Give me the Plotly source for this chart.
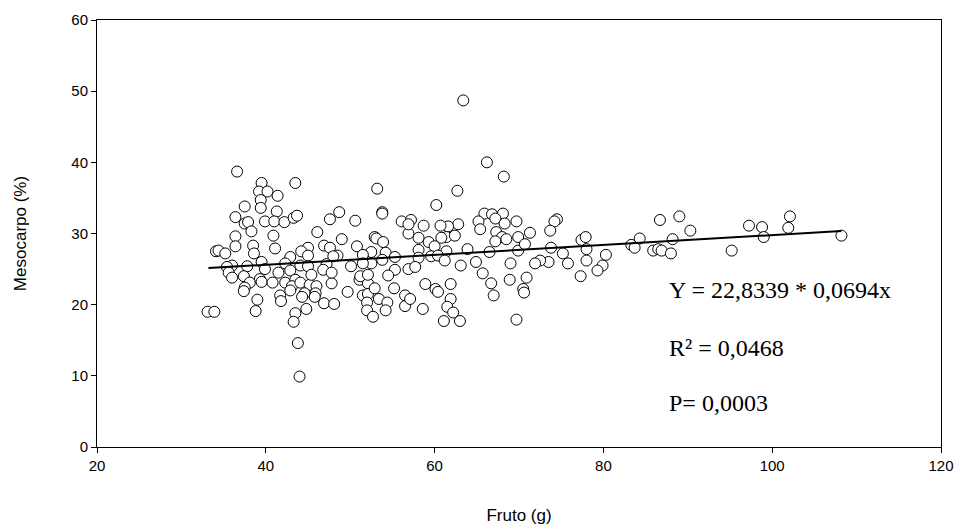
import plotly.graph_objects as go

# Data: fruit weight (g) vs mesocarp (%)
fruto = [
    36.6, 39.5, 39.2, 40.2, 41.4, 39.4, 39.4, 37.5, 43.5, 41.3, 36.4, 37.5, 37.9, 39.9, 41.0, 42.2,
    43.3, 43.7, 38.3, 40.9, 36.4, 36.4, 38.5, 41.1, 38.6, 34.1, 34.4, 35.2, 39.5, 42.9, 42.3, 36.0,
    35.4, 37.8, 39.9, 35.6, 36.0, 37.4, 39.3, 41.5, 42.9, 38.1, 39.5, 40.8, 42.3, 43.5, 43.1, 37.5,
    37.4, 39.0, 38.8, 33.1, 33.9, 41.7, 41.8, 42.9, 43.5, 43.3, 43.8, 44.0,
    44.1, 45.2, 46.0, 47.8, 44.6, 44.3, 45.9, 45.8, 46.9, 48.1, 44.8, 49.7, 51.1, 52.1, 51.5, 52.1,
    52.9, 52.0, 53.4, 54.4, 54.2, 52.0, 52.7, 55.2, 56.5, 56.5,
    53.2, 53.8, 53.8, 48.7, 47.6, 50.6, 56.1, 46.1, 52.9, 53.1, 56.9, 49.0, 46.9, 50.8, 53.9, 47.6,
    45.0, 44.2, 52.5, 54.2, 51.5, 48.5, 48.0, 45.0, 55.3, 53.8, 52.5, 51.5, 50.1, 47.2, 44.1, 45.0,
    55.3, 56.9, 46.8, 47.8, 45.4, 51.2, 54.5, 52.1,
    66.2, 68.2, 62.7, 60.2, 65.9, 66.8, 68.1, 67.2, 65.2, 68.3, 65.4, 67.3, 69.7, 68.0, 67.2, 68.5,
    69.9, 62.8, 61.6, 60.7, 58.7, 57.2, 56.9, 58.1, 61.4, 62.4, 60.8, 59.3, 58.1, 60.0, 61.4, 63.9,
    66.5, 69.9, 59.6, 60.4, 58.1, 61.2, 63.1, 64.9, 69.0, 57.7, 65.7, 68.9, 66.7, 58.9, 61.9, 60.1,
    60.4, 61.9, 61.5, 62.2, 61.1, 63.0, 58.6, 57.1, 67.0, 69.7, 63.4,
    74.5, 74.2, 73.7, 71.3, 70.7, 73.8, 77.4, 77.9, 78.0, 75.2, 80.3, 79.9, 79.3, 78.0, 75.8, 73.5,
    72.5, 71.9, 77.3, 70.9, 70.5, 70.6,
    86.7, 89.0, 90.3, 84.3, 83.3, 83.7, 88.2, 85.9, 86.5, 86.9, 88.0, 95.2,
    97.25, 98.8, 99.0, 102.1, 101.9, 108.2,
]
mesocarpo = [
    38.7, 37.1, 35.9, 35.9, 35.3, 34.7, 33.6, 33.8, 37.1, 33.1, 32.3, 31.4, 31.6, 31.7, 31.7, 31.6,
    32.2, 32.5, 30.3, 29.7, 29.6, 28.2, 28.3, 27.9, 27.2, 27.5, 27.6, 27.2, 26.0, 26.7, 25.8, 25.5,
    25.3, 25.4, 25.0, 24.5, 23.8, 24.0, 23.6, 24.5, 24.8, 23.1, 23.2, 23.1, 23.1, 23.5, 22.6, 22.4,
    21.9, 20.7, 19.1, 19.0, 19.0, 21.3, 20.5, 22.0, 18.8, 17.6, 14.6, 9.9,
    23.1, 22.8, 22.6, 23.0, 21.6, 21.1, 21.6, 21.1, 20.2, 20.1, 19.4, 21.8, 23.5, 23.0, 21.3, 21.5,
    22.3, 20.3, 20.8, 20.3, 19.2, 19.2, 18.3, 22.3, 21.3, 19.8,
    36.3, 33.0, 32.8, 33.0, 32.0, 31.8, 31.7, 30.2, 29.5, 29.3, 30.0, 29.2, 28.3, 28.2, 28.8, 28.0,
    28.0, 27.5, 27.4, 27.3, 27.0, 26.9, 26.8, 26.9, 26.7, 26.3, 25.8, 25.8, 25.4, 25.7, 25.5, 25.4,
    24.9, 25.0, 24.9, 24.5, 24.2, 24.0, 24.1, 24.2,
    40.0, 38.0, 36.0, 34.0, 32.8, 32.7, 32.8, 32.1, 31.7, 31.4, 30.6, 30.2, 31.7, 29.5, 28.9, 29.2,
    29.5, 31.3, 31.0, 31.1, 31.1, 31.9, 31.3, 29.4, 29.5, 29.7, 29.4, 28.8, 27.7, 28.2, 27.5, 27.8,
    27.4, 27.6, 26.8, 26.9, 26.6, 26.2, 25.5, 26.0, 25.8, 25.3, 24.4, 23.5, 23.0, 22.9, 22.9, 22.2,
    21.8, 20.8, 19.7, 18.9, 17.7, 17.7, 19.4, 20.8, 21.3, 17.9, 48.7,
    32.0, 31.7, 30.4, 30.1, 28.5, 28.0, 29.1, 29.5, 27.8, 27.2, 27.0, 25.5, 24.8, 26.2, 25.8, 26.0,
    26.2, 25.8, 24.0, 23.8, 22.2, 21.7,
    31.9, 32.4, 30.4, 29.3, 28.4, 28.0, 29.2, 27.6, 27.8, 27.6, 27.2, 27.6,
    31.1, 30.9, 29.5, 32.4, 30.8, 29.7,
]

# Regression: Y = a + b*x
fit_intercept = 22.8339
fit_slope = 0.0694
fit_x = [33.2, 108.2]
fit_y = [fit_intercept + fit_slope * v for v in fit_x]

x_ticks = [20, 40, 60, 80, 100, 120]
y_ticks = [0, 10, 20, 30, 40, 50, 60]

annotations_text = ["Y = 22,8339 * 0,0694x", "R² = 0,0468", "P= 0,0003"]
annotations_x = [87.5, 87.5, 87.5]
annotations_y = [22.0, 13.9, 6.2]

fig = go.Figure()
fig.add_trace(go.Scatter(
    x=fruto, y=mesocarpo, mode="markers",
    marker=dict(symbol="circle", size=11, color="white",
                line=dict(color="black", width=1)),
    showlegend=False, hoverinfo="x+y",
))
fig.add_trace(go.Scatter(
    x=fit_x, y=fit_y, mode="lines",
    line=dict(color="black", width=2), showlegend=False,
))

for t, ax, ay in zip(annotations_text, annotations_x, annotations_y):
    fig.add_annotation(x=ax, y=ay, xref="x", yref="y", text=t, showarrow=False,
                       xanchor="left", yanchor="middle",
                       font=dict(family="Liberation Serif, Times New Roman, serif",
                                 size=24, color="black"))

axis_common = dict(showgrid=False, zeroline=False, showline=True, linecolor="black",
                   linewidth=1, mirror=True, ticks="outside", ticklen=5, tickwidth=1,
                   tickcolor="black", automargin=False,
                   tickfont=dict(family="Liberation Sans, Arial, sans-serif", size=15, color="black"),
                   title_font=dict(family="Liberation Sans, Arial, sans-serif", size=17, color="black"))

fig.update_xaxes(range=[20, 120], tickvals=x_ticks, title_text="Fruto (g)",
                 title_standoff=36, **axis_common)
fig.update_yaxes(range=[0, 60], tickvals=y_ticks, title_text="Mesocarpo (%)",
                 title_standoff=40, **axis_common)

fig.update_layout(
    width=965, height=530,
    margin=dict(l=97, r=24, t=20, b=83),
    plot_bgcolor="white", paper_bgcolor="white",
)

fig.write_html("out.html")
